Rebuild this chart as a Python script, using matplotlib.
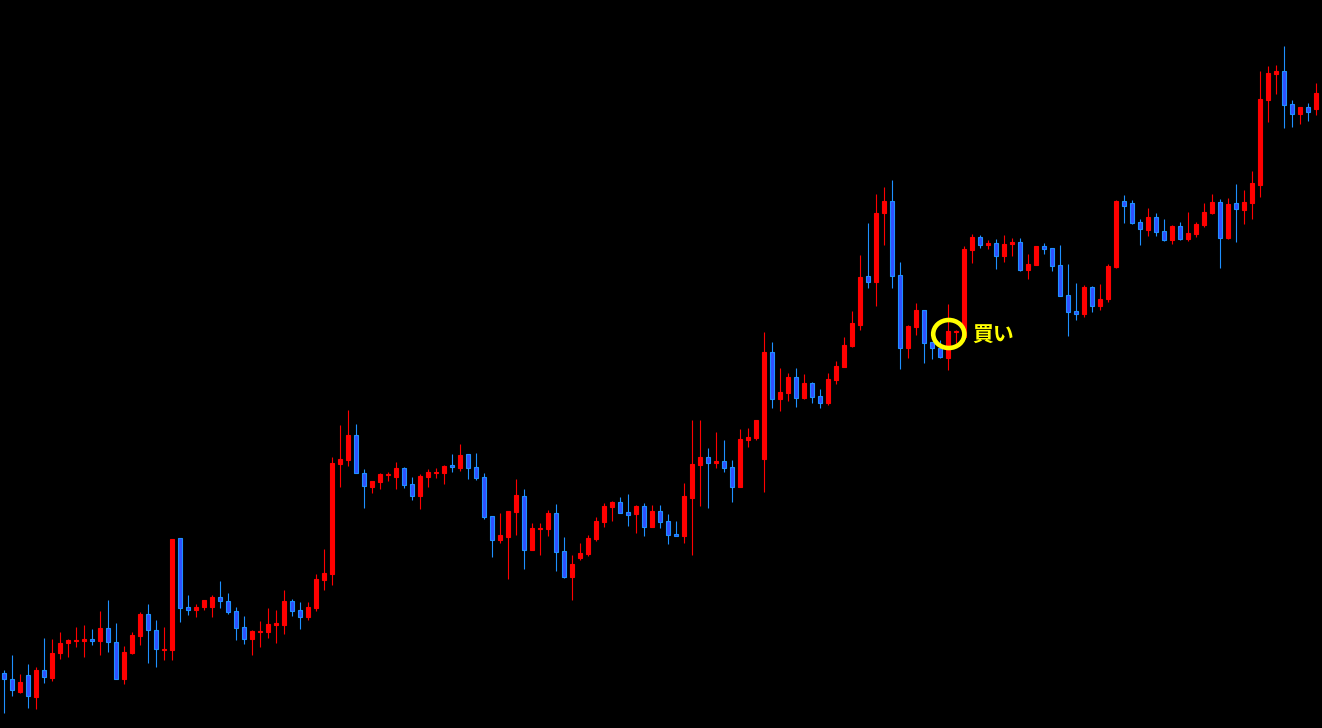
import matplotlib
matplotlib.use('Agg')
import matplotlib.pyplot as plt
from matplotlib.patches import Ellipse

# OHLC (price in chart points)
opens = [55, 49, 36, 53, 31, 58, 50, 75, 85, 87, 87, 89, 87, 100, 86, 49, 75, 92, 114, 98,
         78, 78, 190, 121, 118, 121, 121, 131, 127, 117, 101, 89, 96, 96, 103, 103, 127, 118, 111, 120,
         148, 154, 264, 268, 293, 255, 241, 246, 253, 251, 260, 244, 232, 251, 255, 255, 263, 260, 274, 261,
         251, 212, 188, 191, 216, 232, 178, 199, 199, 215, 177, 151, 170, 174, 189, 206, 221, 226, 216, 214,
         222, 201, 217, 207, 194, 192, 230, 263, 271, 265, 267, 261, 241, 288, 290, 269, 376, 329, 335, 351,
         330, 345, 332, 325, 348, 361, 382, 403, 452, 446, 515, 527, 453, 380, 401, 418, 386, 380, 370, 396,
         391, 478, 491, 483, 485, 472, 484, 486, 458, 463, 482, 480, 463, 433, 417, 414, 441, 422, 429, 461,
         527, 525, 506, 498, 511, 497, 488, 502, 489, 494, 503, 515, 526, 490, 525, 518, 525, 543, 628, 654,
         657, 624, 614, 621, 619]
highs = [58, 73, 54, 64, 61, 90, 89, 96, 89, 101, 103, 99, 117, 128, 105, 82, 96, 116, 124, 108,
         101, 189, 190, 133, 124, 128, 133, 147, 135, 121, 112, 98, 107, 120, 118, 138, 129, 126, 126, 154,
         179, 271, 303, 318, 304, 259, 247, 255, 256, 266, 261, 251, 254, 259, 260, 263, 274, 284, 274, 275,
         255, 212, 215, 217, 249, 239, 205, 205, 218, 224, 191, 173, 185, 193, 211, 225, 227, 231, 234, 223,
         225, 223, 223, 214, 207, 245, 308, 308, 280, 296, 288, 268, 299, 300, 308, 396, 386, 360, 355, 360,
         354, 346, 339, 355, 367, 391, 417, 473, 505, 534, 541, 548, 466, 403, 425, 418, 386, 388, 424, 398,
         482, 494, 493, 488, 489, 493, 490, 490, 474, 482, 485, 480, 483, 464, 445, 443, 442, 444, 464, 528,
         533, 528, 509, 520, 515, 509, 503, 506, 516, 506, 525, 534, 529, 530, 544, 538, 557, 657, 662, 663,
         682, 628, 621, 625, 645]
lows = [15, 32, 35, 20, 19, 45, 47, 69, 71, 81, 71, 83, 73, 76, 49, 44, 74, 83, 65, 61,
        68, 68, 106, 113, 111, 118, 111, 120, 114, 88, 84, 73, 81, 90, 85, 94, 112, 99, 108, 117,
        138, 143, 241, 262, 255, 220, 235, 239, 247, 239, 240, 228, 219, 241, 250, 244, 256, 257, 249, 248,
        209, 171, 185, 149, 193, 159, 178, 173, 192, 157, 150, 128, 168, 172, 187, 201, 207, 215, 202, 195,
        192, 201, 200, 184, 192, 185, 173, 222, 220, 260, 256, 226, 241, 281, 288, 236, 320, 317, 327, 321,
        329, 325, 320, 323, 344, 361, 381, 398, 440, 422, 483, 440, 359, 370, 393, 365, 369, 370, 358, 385,
        391, 465, 480, 479, 459, 466, 472, 457, 449, 463, 474, 457, 432, 392, 408, 411, 416, 418, 426, 460,
        505, 504, 483, 492, 492, 487, 484, 488, 487, 491, 501, 514, 460, 489, 486, 504, 509, 531, 606, 634,
        600, 601, 604, 607, 613]
closes = [49, 38, 46, 32, 58, 51, 75, 85, 88, 88, 89, 87, 100, 86, 49, 76, 93, 114, 98, 79,
          79, 189, 120, 118, 121, 128, 131, 127, 116, 100, 89, 97, 97, 104, 105, 127, 117, 111, 121, 149,
          155, 265, 269, 293, 255, 242, 247, 254, 254, 260, 243, 232, 252, 256, 256, 262, 261, 273, 260, 250,
          211, 188, 193, 217, 233, 178, 200, 200, 215, 176, 151, 164, 175, 190, 207, 222, 226, 215, 213, 222,
          201, 217, 206, 193, 192, 232, 264, 271, 265, 267, 260, 241, 289, 291, 308, 376, 329, 336, 351, 330,
          345, 331, 325, 349, 362, 383, 405, 451, 446, 515, 527, 452, 380, 402, 418, 385, 380, 371, 397, 397,
          479, 491, 483, 485, 472, 484, 486, 458, 464, 482, 479, 462, 432, 416, 414, 441, 422, 429, 462, 527,
          522, 505, 499, 511, 496, 488, 502, 489, 495, 504, 516, 526, 490, 524, 519, 526, 545, 629, 655, 657,
          623, 614, 621, 616, 635]

UP = '#ff0000'
DOWN_EDGE = '#1e90ff'
DOWN_FILL = '#3050ff'

fig = plt.figure(figsize=(13.22, 7.28), dpi=100, facecolor='black')
ax = fig.add_axes([0, 0, 1, 1])
ax.set_facecolor('black')

for i in range(len(opens)):
    o, h, l, c = opens[i], highs[i], lows[i], closes[i]
    up = c >= o
    wick = UP if up else DOWN_EDGE
    ax.vlines(i, l, h, color=wick, linewidth=0.8, zorder=1)
    bottom = min(o, c)
    height = max(abs(c - o), 1)
    ax.bar(i, height, bottom=bottom, width=0.55,
           color=UP if up else DOWN_FILL,
           edgecolor=UP if up else DOWN_EDGE, linewidth=0.8, zorder=2)

# buy marker
ax.add_patch(Ellipse((118.1, 394), 3.9, 28, fill=False, edgecolor='#ffff00',
                     linewidth=3.3, zorder=3))
ax.text(121, 393, '買い', color='#ffff00', fontsize=15, fontweight='bold',
        family=['Noto Sans CJK JP', 'DejaVu Sans'], va='center', ha='left', zorder=3)

ax.set_xlim(-0.5, 164.75)
ax.set_ylim(0, 728)
ax.axis('off')

fig.savefig('out.png', dpi=100, facecolor='black')
